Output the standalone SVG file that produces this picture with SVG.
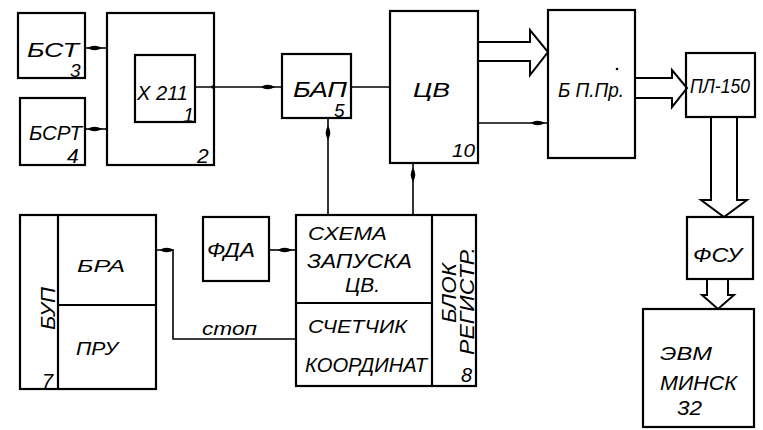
<svg xmlns="http://www.w3.org/2000/svg" xmlns:xlink="http://www.w3.org/1999/xlink" width="763" height="430" viewBox="0 0 763 430">
<style>
.box{fill:none;stroke:#000;stroke-width:2.2}
.ln{fill:none;stroke:#000;stroke-width:1.6}
.big{fill:#fff;stroke:#000;stroke-width:2;stroke-linejoin:miter}
text{font-family:"Liberation Sans","DejaVu Sans",sans-serif;font-style:italic;fill:#000}
</style>
<defs>
<path id="dart" d="M-7,0 Q-1,-4.5 7,0 Q-1,4.5 -7,0 Z" fill="#000"/>
</defs>
<rect width="763" height="430" fill="#fff"/>
<g id="connectors">
<line class="ln" x1="85" y1="48" x2="107" y2="48"/>
<use xlink:href="#dart" transform="translate(95,48)"/>
<line class="ln" x1="85" y1="129" x2="107" y2="129"/>
<use xlink:href="#dart" transform="translate(95,129)"/>
<line class="ln" x1="195" y1="87" x2="282" y2="87"/>
<circle cx="213" cy="87" r="1.8"/>
<use xlink:href="#dart" transform="translate(268,87)"/>
<line class="ln" x1="351" y1="87" x2="390" y2="87"/>
<line class="ln" x1="328" y1="118" x2="328" y2="215"/>
<use xlink:href="#dart" transform="translate(328,133) rotate(90)"/>
<line class="ln" x1="413" y1="163" x2="413" y2="215"/>
<use xlink:href="#dart" transform="translate(413,175) rotate(90)"/>
<line class="ln" x1="478" y1="123" x2="548" y2="123"/>
<use xlink:href="#dart" transform="translate(538,123)"/>
<path class="big" d="M478,42 L530,42 L530,30 L548,52 L530,75 L530,61 L478,61"/>
<path class="big" d="M635,78 L672,78 L672,70 L687,88 L672,107 L672,98 L635,98"/>
<path class="big" d="M711,117 L711,200 L701,200 L724,217 L747,200 L737,200 L737,117"/>
<path class="big" d="M707,279 L707,295 L702,295 L718,309 L734,295 L728,295 L728,279"/>
<path class="ln" d="M156,250 L173,250 L173,339 L296,339"/>
<use xlink:href="#dart" transform="translate(167,250)"/>
<line class="ln" x1="269" y1="250" x2="296" y2="250"/>
<use xlink:href="#dart" transform="translate(285,250)"/>
<text x="202" y="335" font-size="19" textLength="55" lengthAdjust="spacingAndGlyphs">стоп</text>
</g>
<g id="bst">
<rect class="box" x="18" y="13" width="67" height="65"/>
<text x="27" y="57" font-size="20" textLength="52" lengthAdjust="spacingAndGlyphs">БСТ</text>
<text x="70" y="77" font-size="19">3</text>
</g>
<g id="bsrt">
<rect class="box" x="20" y="98" width="65" height="67"/>
<text x="29" y="140" font-size="20" textLength="53" lengthAdjust="spacingAndGlyphs">БСРТ</text>
<text x="67" y="163" font-size="21">4</text>
</g>
<g id="block2">
<rect class="box" x="107" y="13" width="107" height="152"/>
<text x="197" y="163" font-size="21">2</text>
</g>
<g id="x211">
<rect class="box" x="135" y="55" width="60" height="67"/>
<text x="137" y="100" font-size="20" textLength="51" lengthAdjust="spacingAndGlyphs">X 211</text>
<text x="183" y="122" font-size="20">1</text>
</g>
<g id="bap">
<rect class="box" x="282" y="54" width="69" height="64"/>
<text x="293" y="97" font-size="22" textLength="54" lengthAdjust="spacingAndGlyphs">БАП</text>
<text x="334" y="117" font-size="19">5</text>
</g>
<g id="cv">
<rect class="box" x="390" y="11" width="88" height="152"/>
<text x="413" y="97" font-size="20" textLength="37" lengthAdjust="spacingAndGlyphs">ЦВ</text>
<text x="452" y="157" font-size="19" textLength="23" lengthAdjust="spacingAndGlyphs">10</text>
</g>
<g id="bppr">
<rect class="box" x="548" y="10" width="87" height="148"/>
<text x="558" y="97" font-size="20" textLength="66" lengthAdjust="spacingAndGlyphs">Б П.Пр.</text>
<circle cx="617" cy="69" r="1.3"/>
</g>
<g id="pl150">
<rect class="box" x="686" y="53" width="69" height="64"/>
<text x="690" y="93" font-size="20" textLength="60" lengthAdjust="spacingAndGlyphs">ПЛ-150</text>
</g>
<g id="fsu">
<rect class="box" x="687" y="217" width="66" height="62"/>
<text x="693" y="262" font-size="21" textLength="49" lengthAdjust="spacingAndGlyphs">ФСУ</text>
</g>
<g id="evm">
<rect class="box" x="643" y="309" width="111" height="118"/>
<text x="660" y="360" font-size="18" textLength="52" lengthAdjust="spacingAndGlyphs">ЭВМ</text>
<text x="660" y="390" font-size="20" textLength="77" lengthAdjust="spacingAndGlyphs">МИНСК</text>
<text x="677" y="415" font-size="20" textLength="25" lengthAdjust="spacingAndGlyphs">32</text>
</g>
<g id="bup">
<rect class="box" x="20" y="215" width="136" height="174"/>
<line class="box" x1="58" y1="215" x2="58" y2="389"/>
<line class="box" x1="58" y1="305" x2="156" y2="305"/>
<text transform="translate(55,330) rotate(-90)" font-size="20" textLength="43" lengthAdjust="spacingAndGlyphs">БУП</text>
<text x="42" y="388" font-size="20">7</text>
<text x="77" y="272" font-size="17" textLength="48" lengthAdjust="spacingAndGlyphs">БРА</text>
<text x="76" y="355" font-size="18" textLength="42" lengthAdjust="spacingAndGlyphs">ПРУ</text>
</g>
<g id="fda">
<rect class="box" x="203" y="217" width="66" height="64"/>
<text x="207" y="257" font-size="20" textLength="48" lengthAdjust="spacingAndGlyphs">ФДА</text>
</g>
<g id="block8">
<rect class="box" x="296" y="215" width="180" height="171"/>
<line class="box" x1="432" y1="215" x2="432" y2="386"/>
<line class="box" x1="296" y1="303" x2="432" y2="303"/>
<text x="308" y="240" font-size="18" textLength="79" lengthAdjust="spacingAndGlyphs">СХЕМА</text>
<text x="307" y="268" font-size="20" textLength="105" lengthAdjust="spacingAndGlyphs">ЗАПУСКА</text>
<text x="345" y="292" font-size="20" textLength="35" lengthAdjust="spacingAndGlyphs">ЦВ.</text>
<text x="308" y="333" font-size="18" textLength="99" lengthAdjust="spacingAndGlyphs">СЧЕТЧИК</text>
<text x="305" y="372" font-size="20" textLength="122" lengthAdjust="spacingAndGlyphs">КООРДИНАТ</text>
<text transform="translate(456,323) rotate(-90)" font-size="20" textLength="60" lengthAdjust="spacingAndGlyphs">БЛОК</text>
<text transform="translate(474,355) rotate(-90)" font-size="20" textLength="108" lengthAdjust="spacingAndGlyphs">РЕГИСТР.</text>
<text x="461" y="382" font-size="20">8</text>
</g>
</svg>
